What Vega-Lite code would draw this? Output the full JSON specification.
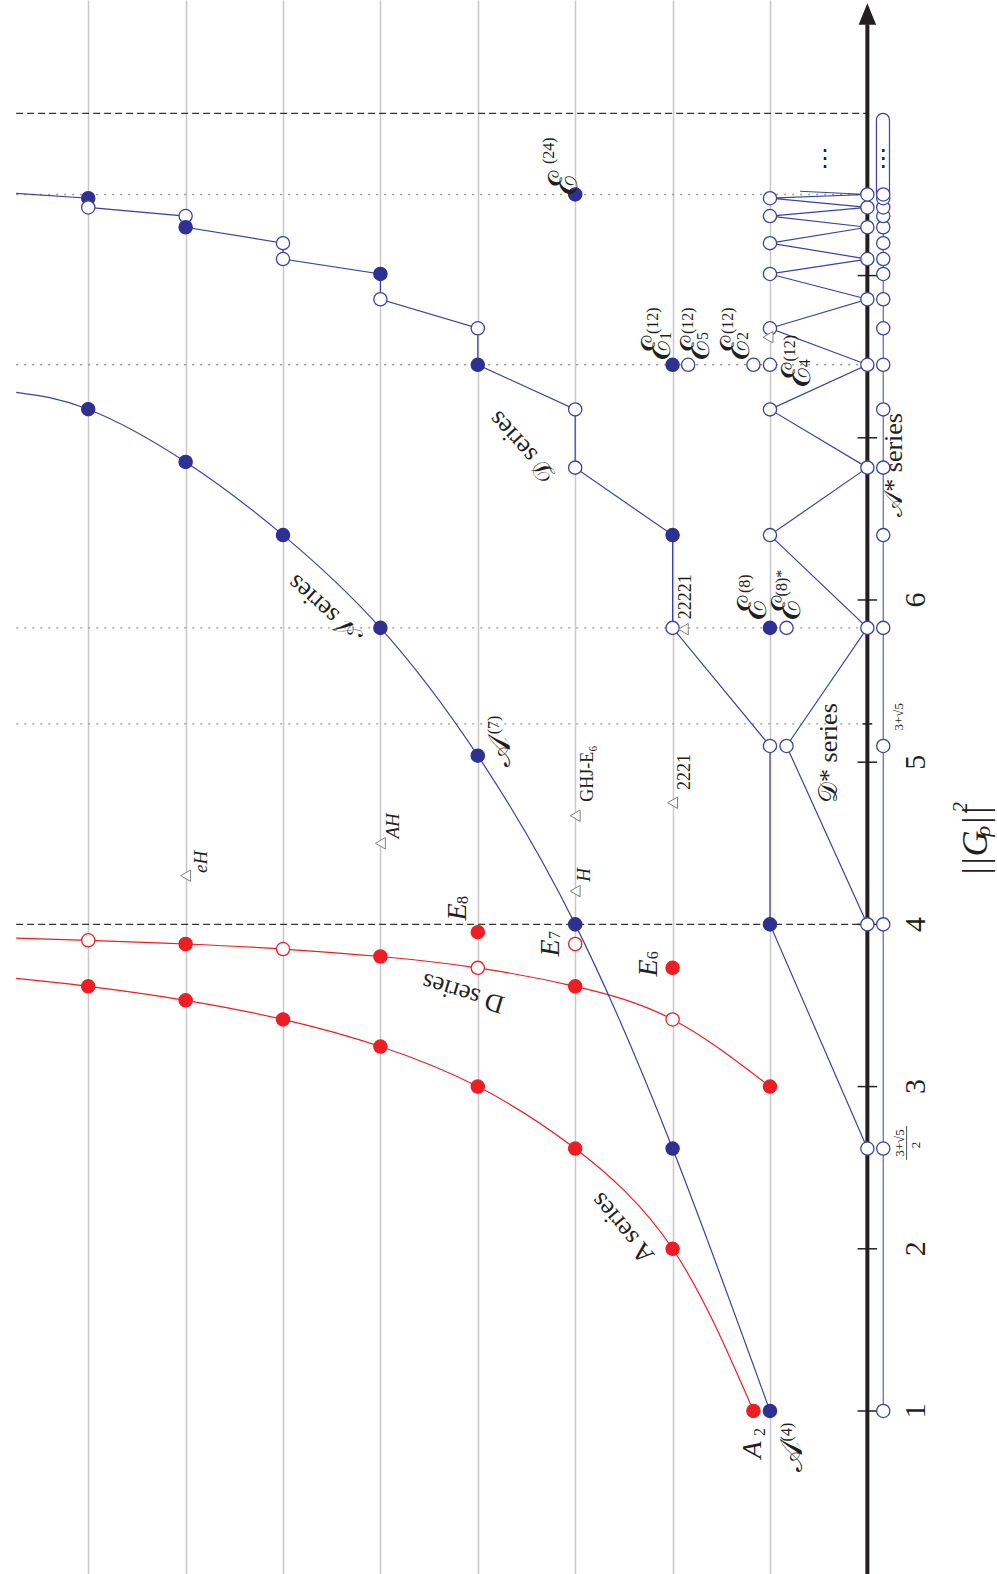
{
  "$schema": "https://vega.github.io/schema/vega-lite/v6.json",
  "width": 997,
  "height": 1574,
  "padding": 0,
  "autosize": {"type": "none"},
  "background": "white",
  "config": {"view": {"stroke": null}},
  "datasets": {
    "dashed": [{"L": 8.74, "L2": 0, "v": 4}, {"L": 8.74, "L2": 0, "v": 9}],
    "dotted": [{"L": 8.74, "L2": 0, "v": 5.236}, {"L": 8.74, "L2": 0, "v": 5.828}, {"L": 8.74, "L2": 0, "v": 7.45}, {"L": 8.74, "L2": 0, "v": 8.5}],
    "curves": [
      {"s": "redA", "L": 1.17, "v": 1}, {"s": "redA", "L": 2, "v": 2}, {"s": "redA", "L": 3, "v": 2.618}, {"s": "redA", "L": 4, "v": 3}, {"s": "redA", "L": 5, "v": 3.247}, {"s": "redA", "L": 6, "v": 3.414}, {"s": "redA", "L": 7, "v": 3.532}, {"s": "redA", "L": 8, "v": 3.618}, {"s": "redA", "L": 8.74, "v": 3.667},
      {"s": "redD", "L": 1, "v": 3}, {"s": "redD", "L": 2, "v": 3.414}, {"s": "redD", "L": 3, "v": 3.618}, {"s": "redD", "L": 4, "v": 3.732}, {"s": "redD", "L": 5, "v": 3.802}, {"s": "redD", "L": 6, "v": 3.848}, {"s": "redD", "L": 7, "v": 3.879}, {"s": "redD", "L": 8, "v": 3.902}, {"s": "redD", "L": 8.74, "v": 3.915},
      {"s": "blueA", "L": 1, "v": 1}, {"s": "blueA", "L": 2, "v": 2.618}, {"s": "blueA", "L": 3, "v": 4}, {"s": "blueA", "L": 4, "v": 5.04}, {"s": "blueA", "L": 5, "v": 5.828}, {"s": "blueA", "L": 6, "v": 6.4}, {"s": "blueA", "L": 7, "v": 6.851}, {"s": "blueA", "L": 8, "v": 7.176}, {"s": "blueA", "L": 8.74, "v": 7.28}
    ],
    "polys": [
      {"id": "D", "o": 1, "L": 8.74, "v": 8.507}, {"id": "D", "o": 2, "L": 8, "v": 8.477}, {"id": "D", "o": 3, "L": 8, "v": 8.42}, {"id": "D", "o": 4, "L": 7, "v": 8.367}, {"id": "D", "o": 5, "L": 7, "v": 8.298}, {"id": "D", "o": 6, "L": 6, "v": 8.2}, {"id": "D", "o": 7, "L": 6, "v": 8.102}, {"id": "D", "o": 8, "L": 5, "v": 8.01}, {"id": "D", "o": 9, "L": 5, "v": 7.854}, {"id": "D", "o": 10, "L": 4, "v": 7.675}, {"id": "D", "o": 11, "L": 4, "v": 7.45}, {"id": "D", "o": 12, "L": 3, "v": 7.175}, {"id": "D", "o": 13, "L": 3, "v": 6.816}, {"id": "D", "o": 14, "L": 2, "v": 6.4}, {"id": "D", "o": 15, "L": 2, "v": 5.828}, {"id": "D", "o": 16, "L": 1, "v": 5.1}, {"id": "D", "o": 17, "L": 1, "v": 4}, {"id": "D", "o": 18, "L": 0, "v": 2.618},
      {"id": "Z", "o": 1, "L": 0, "v": 4}, {"id": "Z", "o": 2, "L": 0.83, "v": 5.1}, {"id": "Z", "o": 3, "L": 0, "v": 5.828}, {"id": "Z", "o": 4, "L": 1, "v": 6.4}, {"id": "Z", "o": 5, "L": 0, "v": 6.816}, {"id": "Z", "o": 6, "L": 1, "v": 7.175}, {"id": "Z", "o": 7, "L": 0, "v": 7.45}, {"id": "Z", "o": 8, "L": 1, "v": 7.675}, {"id": "Z", "o": 9, "L": 0, "v": 7.854}, {"id": "Z", "o": 10, "L": 1, "v": 8.01}, {"id": "Z", "o": 11, "L": 0, "v": 8.102}, {"id": "Z", "o": 12, "L": 1, "v": 8.2}, {"id": "Z", "o": 13, "L": 0, "v": 8.298}, {"id": "Z", "o": 14, "L": 1, "v": 8.367}, {"id": "Z", "o": 15, "L": 0, "v": 8.42}, {"id": "Z", "o": 16, "L": 1, "v": 8.477}, {"id": "Z", "o": 17, "L": 0, "v": 8.5}, {"id": "Z", "o": 18, "L": 0.69, "v": 8.52}
    ],
    "ticks": [{"L": 0.1, "L2": -0.1, "v": 1}, {"L": 0.1, "L2": -0.1, "v": 2}, {"L": 0.1, "L2": -0.1, "v": 3}, {"L": 0.1, "L2": -0.1, "v": 4}, {"L": 0.1, "L2": -0.1, "v": 5}, {"L": 0.1, "L2": -0.1, "v": 6}, {"L": 0.1, "L2": -0.1, "v": 7}, {"L": 0.1, "L2": -0.1, "v": 8}, {"L": 0.05, "L2": -0.05, "v": 5.236}],
    "pts": [
      {"k": "rs", "L": 1.17, "v": 1}, {"k": "rs", "L": 2, "v": 2}, {"k": "rs", "L": 3, "v": 2.618}, {"k": "rs", "L": 4, "v": 3}, {"k": "rs", "L": 5, "v": 3.247}, {"k": "rs", "L": 6, "v": 3.414}, {"k": "rs", "L": 7, "v": 3.532}, {"k": "rs", "L": 8, "v": 3.618},
      {"k": "rs", "L": 1, "v": 3}, {"k": "rh", "L": 2, "v": 3.414}, {"k": "rs", "L": 3, "v": 3.618}, {"k": "rh", "L": 4, "v": 3.732}, {"k": "rs", "L": 5, "v": 3.802}, {"k": "rh", "L": 6, "v": 3.848}, {"k": "rs", "L": 7, "v": 3.879}, {"k": "rh", "L": 8, "v": 3.902},
      {"k": "rs", "L": 4, "v": 3.952}, {"k": "rh", "L": 3, "v": 3.879}, {"k": "rs", "L": 2, "v": 3.732},
      {"k": "bs", "L": 1, "v": 1}, {"k": "bs", "L": 2, "v": 2.618}, {"k": "bs", "L": 3, "v": 4}, {"k": "bs", "L": 4, "v": 5.04}, {"k": "bs", "L": 5, "v": 5.828}, {"k": "bs", "L": 6, "v": 6.4}, {"k": "bs", "L": 7, "v": 6.851}, {"k": "bs", "L": 8, "v": 7.176},
      {"k": "bs", "L": 8, "v": 8.477}, {"k": "bh", "L": 8, "v": 8.42}, {"k": "bh", "L": 7, "v": 8.367}, {"k": "bs", "L": 7, "v": 8.298}, {"k": "bh", "L": 6, "v": 8.2}, {"k": "bh", "L": 6, "v": 8.102}, {"k": "bs", "L": 5, "v": 8.01}, {"k": "bh", "L": 5, "v": 7.854}, {"k": "bh", "L": 4, "v": 7.675}, {"k": "bs", "L": 4, "v": 7.45}, {"k": "bh", "L": 3, "v": 7.175}, {"k": "bh", "L": 3, "v": 6.816}, {"k": "bs", "L": 2, "v": 6.4}, {"k": "bh", "L": 2, "v": 5.828}, {"k": "bh", "L": 1, "v": 5.1}, {"k": "bs", "L": 1, "v": 4},
      {"k": "bh", "L": 0, "v": 2.618}, {"k": "bh", "L": 0, "v": 4}, {"k": "bh", "L": 0, "v": 5.828}, {"k": "bh", "L": 0, "v": 6.816}, {"k": "bh", "L": 0, "v": 7.45}, {"k": "bh", "L": 0, "v": 7.854}, {"k": "bh", "L": 0, "v": 8.102}, {"k": "bh", "L": 0, "v": 8.298}, {"k": "bh", "L": 0, "v": 8.42}, {"k": "bh", "L": 0, "v": 8.5},
      {"k": "bh", "L": 1, "v": 6.4}, {"k": "bh", "L": 1, "v": 7.175}, {"k": "bh", "L": 1, "v": 7.675}, {"k": "bh", "L": 1, "v": 8.01}, {"k": "bh", "L": 1, "v": 8.2}, {"k": "bh", "L": 1, "v": 8.367}, {"k": "bh", "L": 1, "v": 8.477}, {"k": "bh", "L": 1, "v": 7.45},
      {"k": "bh", "L": 0.83, "v": 5.1}, {"k": "bs", "L": 1, "v": 5.828}, {"k": "bh", "L": 0.83, "v": 5.828}, {"k": "bs", "L": 3, "v": 8.5},
      {"k": "bs", "L": 2, "v": 7.45}, {"k": "bh", "L": 1.84, "v": 7.45}, {"k": "bh", "L": 1.17, "v": 7.45},
      {"k": "bh", "L": -0.163, "v": 1}, {"k": "bh", "L": -0.163, "v": 2.618}, {"k": "bh", "L": -0.163, "v": 4}, {"k": "bh", "L": -0.163, "v": 5.1}, {"k": "bh", "L": -0.163, "v": 5.828}, {"k": "bh", "L": -0.163, "v": 6.4}, {"k": "bh", "L": -0.163, "v": 6.816}, {"k": "bh", "L": -0.163, "v": 7.175}, {"k": "bh", "L": -0.163, "v": 7.45}, {"k": "bh", "L": -0.163, "v": 7.675}, {"k": "bh", "L": -0.163, "v": 7.854}, {"k": "bh", "L": -0.163, "v": 8.01}, {"k": "bh", "L": -0.163, "v": 8.102}, {"k": "bh", "L": -0.163, "v": 8.2}, {"k": "bh", "L": -0.163, "v": 8.298}, {"k": "bh", "L": -0.163, "v": 8.367}, {"k": "bh", "L": -0.163, "v": 8.42}, {"k": "bh", "L": -0.163, "v": 8.477}, {"k": "bh", "L": -0.163, "v": 8.5}
    ],
    "tri": [{"L": 7, "v": 4.3}, {"L": 5, "v": 4.5}, {"L": 3, "v": 4.67}, {"L": 3, "v": 4.205}, {"L": 2, "v": 4.75}, {"L": 1.89, "v": 5.82}, {"L": 1.02, "v": 7.62}],
    "mainItalic": [{"L": 1.176, "v": 0.76, "t": "A"}, {"L": 4.204, "v": 4.076, "t": "E"}, {"L": 3.248, "v": 3.855, "t": "E"}, {"L": 2.242, "v": 3.731, "t": "E"}],
    "scriptA": [{"L": 0.776, "v": 0.717, "t": "𝒜"}, {"L": 3.772, "v": 5.063, "t": "𝒜"}],
    "scriptE": [{"L": 3.104, "v": 8.57, "t": "ℰ"}, {"L": 2.147, "v": 7.552, "t": "ℰ"}, {"L": 1.753, "v": 7.552, "t": "ℰ"}, {"L": 1.342, "v": 7.552, "t": "ℰ"}, {"L": 0.709, "v": 7.387, "t": "ℰ"}, {"L": 1.16, "v": 5.95, "t": "ℰ"}, {"L": 0.81, "v": 5.95, "t": "ℰ"}],
    "small": [{"L": 1.1, "v": 0.87, "t": "2"}, {"L": 0.826, "v": 0.87, "t": "(4)"}, {"L": 4.15, "v": 4.15, "t": "8"}, {"L": 3.207, "v": 3.935, "t": "7"}, {"L": 2.2, "v": 3.81, "t": "6"}, {"L": 3.833, "v": 5.23, "t": "(7)"}, {"L": 3.27, "v": 8.77, "t": "(24)"}, {"L": 2.204, "v": 7.722, "t": "(12)"}, {"L": 2.07, "v": 7.628, "t": "1"}, {"L": 1.839, "v": 7.722, "t": "(12)"}, {"L": 1.685, "v": 7.628, "t": "5"}, {"L": 1.428, "v": 7.722, "t": "(12)"}, {"L": 1.274, "v": 7.628, "t": "2"}, {"L": 0.795, "v": 7.552, "t": "(12)"}, {"L": 0.64, "v": 7.459, "t": "4"}, {"L": 1.256, "v": 6.1, "t": "(8)"}, {"L": 0.877, "v": 6.104, "t": "(8)*"}],
    "triItalic": [{"L": 6.84, "v": 4.385, "t": "eH"}, {"L": 4.87, "v": 4.607, "t": "AH"}, {"L": 2.91, "v": 4.305, "t": "H"}],
    "triUpright": [{"L": 2.87, "v": 4.93, "t": "GHJ-E₆"}, {"L": 1.87, "v": 4.94, "t": "2221"}, {"L": 1.86, "v": 6.02, "t": "22221"}],
    "tickLabels": [{"L": -0.5, "v": 1, "t": "1"}, {"L": -0.5, "v": 2, "t": "2"}, {"L": -0.5, "v": 3, "t": "3"}, {"L": -0.5, "v": 4, "t": "4"}, {"L": -0.5, "v": 5, "t": "5"}, {"L": -0.5, "v": 6, "t": "6"}],
    "fracText": [{"L": -0.33, "v": 2.652, "t": "3+√5"}, {"L": -0.5, "v": 2.64, "t": "2"}, {"L": -0.325, "v": 5.28, "t": "3+√5"}],
    "dots": [{"L": 0.435, "v": 8.72, "t": "⋮"}, {"L": -0.163, "v": 8.72, "t": "⋮"}]
  },
  "encoding": {
    "x": {"field": "L", "type": "quantitative", "scale": {"domain": [-1.331, 8.906], "reverse": true, "nice": false, "zero": false}, "axis": {"values": [1, 2, 3, 4, 5, 6, 7, 8], "grid": true, "gridColor": "#c8c8c8", "gridWidth": 1.5, "domain": false, "ticks": false, "labels": false, "title": null}},
    "y": {"field": "v", "type": "quantitative", "scale": {"domain": [-0.005, 9.699], "nice": false, "zero": false}, "axis": null}
  },
  "layer": [
    {"data": {"name": "dashed"}, "mark": {"type": "rule", "color": "#333333", "strokeWidth": 1.3, "strokeDash": [7, 4]}, "encoding": {"x2": {"field": "L2"}}},
    {"data": {"name": "dotted"}, "mark": {"type": "rule", "color": "#999999", "strokeWidth": 1.4, "strokeDash": [2, 6]}, "encoding": {"x2": {"field": "L2"}}},
    {"data": {"name": "curves"}, "mark": {"type": "line", "interpolate": "natural", "strokeWidth": 1.2}, "encoding": {"color": {"field": "s", "type": "nominal", "scale": {"domain": ["redA", "redD", "blueA"], "range": ["#EE1D23", "#EE1D23", "#3B43A0"]}, "legend": null}, "order": {"field": "L", "type": "quantitative"}}},
    {"data": {"name": "polys"}, "mark": {"type": "line", "color": "#3B43A0", "strokeWidth": 1.2}, "encoding": {"detail": {"field": "id", "type": "nominal"}, "order": {"field": "o", "type": "quantitative"}}},
    {"data": {"values": [{"L": -0.163, "v": 1, "v2": 8.5}]}, "mark": {"type": "rule", "color": "#5A62B5", "strokeWidth": 1.2}, "encoding": {"y2": {"field": "v2"}}},
    {"data": {"values": [{"L": -0.093, "L2": -0.227, "v": 8.47, "v2": 9.0}]}, "mark": {"type": "rect", "cornerRadius": 6.5, "fill": "white", "stroke": "#3B43A0", "strokeWidth": 1.2}, "encoding": {"x2": {"field": "L2"}, "y2": {"field": "v2"}}},
    {"data": {"values": [{"L": 0, "v": -0.1, "v2": 9.55}]}, "mark": {"type": "rule", "color": "#231F20", "strokeWidth": 4}, "encoding": {"y2": {"field": "v2"}}},
    {"data": {"values": [{"L": 0, "v": 9.613}]}, "mark": {"type": "point", "shape": "M0,-1L0.81,1L-0.81,1Z", "size": 467, "filled": true, "color": "#231F20", "opacity": 1}},
    {"data": {"name": "ticks"}, "mark": {"type": "rule", "color": "#231F20", "strokeWidth": 1.5}, "encoding": {"x2": {"field": "L2"}}},
    {"data": {"name": "pts"}, "mark": {"type": "point", "shape": "circle", "size": 175, "filled": true, "strokeWidth": 1.3, "opacity": 1}, "encoding": {
      "fill": {"field": "k", "type": "nominal", "scale": {"domain": ["rs", "rh", "bs", "bh"], "range": ["#EE1D23", "#ffffff", "#2E3192", "#ffffff"]}, "legend": null},
      "stroke": {"field": "k", "type": "nominal", "scale": {"domain": ["rs", "rh", "bs", "bh"], "range": ["#EE1D23", "#EE1D23", "#2E3192", "#3B43A0"]}, "legend": null}}},
    {"data": {"name": "tri"}, "mark": {"type": "point", "shape": "triangle-left", "size": 130, "filled": true, "fill": "white", "stroke": "#808080", "strokeWidth": 1, "opacity": 1}},
    {"data": {"name": "mainItalic"}, "mark": {"type": "text", "font": "Liberation Serif", "fontStyle": "italic", "fontSize": 28, "angle": 270, "align": "center", "baseline": "middle", "color": "#231F20"}, "encoding": {"text": {"field": "t"}}},
    {"data": {"name": "scriptA"}, "mark": {"type": "text", "font": "Liberation Serif", "fontSize": 32, "angle": 270, "align": "center", "baseline": "middle", "color": "#231F20"}, "encoding": {"text": {"field": "t"}}},
    {"data": {"name": "scriptE"}, "mark": {"type": "text", "font": "Liberation Serif", "fontSize": 40, "angle": 270, "align": "center", "baseline": "middle", "color": "#231F20"}, "encoding": {"text": {"field": "t"}}},
    {"data": {"name": "small"}, "mark": {"type": "text", "font": "Liberation Serif", "fontSize": 16, "angle": 270, "align": "center", "baseline": "middle", "color": "#231F20"}, "encoding": {"text": {"field": "t"}}},
    {"data": {"name": "triItalic"}, "mark": {"type": "text", "font": "Liberation Serif", "fontStyle": "italic", "fontSize": 19, "angle": 270, "align": "center", "baseline": "middle", "color": "#231F20"}, "encoding": {"text": {"field": "t"}}},
    {"data": {"name": "triUpright"}, "mark": {"type": "text", "font": "Liberation Serif", "fontSize": 18, "angle": 270, "align": "center", "baseline": "middle", "color": "#231F20"}, "encoding": {"text": {"field": "t"}}},
    {"data": {"values": [{"L": 4.152, "v": 3.577, "t": "D series"}]}, "mark": {"type": "text", "font": "Liberation Serif", "fontSize": 26, "angle": 197, "align": "center", "baseline": "middle", "color": "#231F20"}, "encoding": {"text": {"field": "t"}}},
    {"data": {"values": [{"L": 2.516, "v": 2.128, "t": "A series"}]}, "mark": {"type": "text", "font": "Liberation Serif", "fontSize": 26, "angle": 230, "align": "center", "baseline": "middle", "color": "#231F20"}, "encoding": {"text": {"field": "t"}}},
    {"data": {"values": [{"L": 5.57, "v": 5.94, "t": "𝒜 series"}]}, "mark": {"type": "text", "font": "Liberation Serif", "fontSize": 26, "angle": 222, "align": "center", "baseline": "middle", "color": "#231F20"}, "encoding": {"text": {"field": "t"}}},
    {"data": {"values": [{"L": 3.546, "v": 6.943, "t": "𝒟 series"}]}, "mark": {"type": "text", "font": "Liberation Serif", "fontSize": 26, "angle": 228, "align": "center", "baseline": "middle", "color": "#231F20"}, "encoding": {"text": {"field": "t"}}},
    {"data": {"values": [{"L": 0.394, "v": 5.056, "t": "𝒟* series"}, {"L": -0.273, "v": 6.833, "t": "𝒜* series"}]}, "mark": {"type": "text", "font": "Liberation Serif", "fontSize": 26, "angle": 270, "align": "center", "baseline": "middle", "color": "#231F20"}, "encoding": {"text": {"field": "t"}}},
    {"data": {"name": "tickLabels"}, "mark": {"type": "text", "font": "Liberation Serif", "fontSize": 30, "angle": 270, "align": "center", "baseline": "middle", "color": "#231F20"}, "encoding": {"text": {"field": "t"}}},
    {"data": {"name": "fracText"}, "mark": {"type": "text", "font": "Liberation Serif", "fontSize": 13, "angle": 270, "align": "center", "baseline": "middle", "color": "#231F20"}, "encoding": {"text": {"field": "t"}}},
    {"data": {"values": [{"L": -0.403, "v": 2.548, "v2": 2.757}]}, "mark": {"type": "rule", "color": "#231F20", "strokeWidth": 0.8}, "encoding": {"y2": {"field": "v2"}}},
    {"data": {"name": "dots"}, "mark": {"type": "text", "font": "DejaVu Sans", "fontSize": 24, "align": "center", "baseline": "middle", "color": "#231F20"}, "encoding": {"text": {"field": "t"}}},
    {"data": {"values": [{"L": -1.115, "v": 4.437, "t": "||G"}, {"L": -1.115, "v": 4.669, "t": "||"}]}, "mark": {"type": "text", "font": "Liberation Serif", "fontStyle": "italic", "fontSize": 36, "angle": 270, "align": "center", "baseline": "middle", "color": "#231F20"}, "encoding": {"text": {"field": "t"}}},
    {"data": {"values": [{"L": -1.19, "v": 4.575, "t": "ρ"}, {"L": -0.95, "v": 4.72, "t": "2"}]}, "mark": {"type": "text", "font": "Liberation Serif", "fontStyle": "italic", "fontSize": 22, "angle": 270, "align": "center", "baseline": "middle", "color": "#231F20"}, "encoding": {"text": {"field": "t"}}}
  ]
}
